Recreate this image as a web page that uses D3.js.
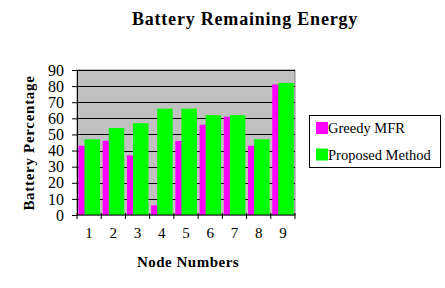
<!DOCTYPE html>
<html>
<head>
<meta charset="UTF-8">
<title>Battery Remaining Energy</title>
<style>
  body { margin: 0; background: #fff; }
  text { font-family: "Liberation Serif", "Times New Roman", serif; }
</style>
</head>
<body>
<script src="https://d3js.org/d3.v7.min.js"></script>
<script>
var nodes = ["1", "2", "3", "4", "5", "6", "7", "8", "9"];
var greedy = [43, 46, 37, 6, 46, 56, 61, 43, 81];
var proposed = [47, 54, 57, 66, 66, 62, 62, 47, 82];
var seriesNames = ["Greedy MFR", "Proposed Method"];
var seriesColors = ["#ff00ff", "#00ff00"];
var yTicks = [0, 10, 20, 30, 40, 50, 60, 70, 80, 90];

var width = 445, height = 288;
var plotL = 77, plotR = 295, plotT = 70, plotB = 215;

var svg = d3.select("body").append("svg")
    .attr("width", width)
    .attr("height", height);

var x = d3.scaleBand().domain(nodes).range([plotL, plotR]);
var y = d3.scaleLinear().domain([0, 90]).range([plotB, plotT]);

// plot background
svg.append("rect")
    .attr("x", plotL).attr("y", plotT)
    .attr("width", plotR - plotL).attr("height", plotB - plotT)
    .attr("fill", "#c0c0c0")
    .attr("stroke", "#808080");

// gridlines
svg.append("g").selectAll("line")
    .data(yTicks.slice(1))
    .enter().append("line")
    .attr("x1", plotL).attr("x2", plotR)
    .attr("y1", function(d) { return Math.round(y(d)) + 0.5; })
    .attr("y2", function(d) { return Math.round(y(d)) + 0.5; })
    .attr("stroke", "#000")
    .attr("stroke-width", 1);

var bw = x.bandwidth();

// greedy bars (behind)
svg.append("g").selectAll("rect")
    .data(greedy)
    .enter().append("rect")
    .attr("x", function(d, i) { return x(nodes[i]) + bw * 0.06; })
    .attr("y", function(d) { return y(d); })
    .attr("width", bw * 0.28)
    .attr("height", function(d) { return plotB - y(d); })
    .attr("fill", seriesColors[0]);

// proposed bars
svg.append("g").selectAll("rect")
    .data(proposed)
    .enter().append("rect")
    .attr("x", function(d, i) { return x(nodes[i]) + bw * 0.31; })
    .attr("y", function(d) { return y(d); })
    .attr("width", bw * 0.64)
    .attr("height", function(d) { return plotB - y(d); })
    .attr("fill", seriesColors[1]);

// y axis
var yAxis = d3.axisLeft(y).tickValues(yTicks).tickSize(5).tickPadding(8);
var gy = svg.append("g")
    .attr("transform", "translate(" + plotL + ",0)")
    .call(yAxis);
gy.attr("font-family", null);
gy.selectAll("text").attr("font-size", 16).attr("fill", "#000");
gy.selectAll("line, path").attr("stroke", "#000");

// x axis with ticks at band edges
var gx = svg.append("g")
    .attr("transform", "translate(0," + plotB + ")");
gx.append("line")
    .attr("x1", plotL).attr("x2", plotR)
    .attr("stroke", "#000");
var edges = nodes.map(function(n) { return x(n); }).concat([plotR]);
gx.selectAll(".edge")
    .data(edges)
    .enter().append("line")
    .attr("class", "edge")
    .attr("x1", function(d) { return d; })
    .attr("x2", function(d) { return d; })
    .attr("y1", -2).attr("y2", 4)
    .attr("stroke", "#000");
gx.selectAll(".lbl")
    .data(nodes)
    .enter().append("text")
    .attr("class", "lbl")
    .attr("x", function(d) { return x(d) + bw / 2; })
    .attr("y", 23)
    .attr("text-anchor", "middle")
    .attr("font-size", 15)
    .text(function(d) { return d; });

// titles
svg.append("text")
    .attr("x", 245).attr("y", 25)
    .attr("text-anchor", "middle")
    .attr("font-size", 18).attr("font-weight", "bold")
    .attr("letter-spacing", 0.8)
    .text("Battery Remaining Energy");

svg.append("text")
    .attr("x", 188).attr("y", 267)
    .attr("text-anchor", "middle")
    .attr("font-size", 15).attr("font-weight", "bold")
    .attr("letter-spacing", 0.5)
    .text("Node Numbers");

svg.append("text")
    .attr("transform", "translate(34,143) rotate(-90)")
    .attr("text-anchor", "middle")
    .attr("font-size", 15).attr("font-weight", "bold")
    .attr("letter-spacing", 0.7)
    .text("Battery Percentage");

// legend
var lg = svg.append("g");
lg.append("rect")
    .attr("x", 309.5).attr("y", 115.5)
    .attr("width", 131).attr("height", 52)
    .attr("fill", "#fff").attr("stroke", "#000");
seriesNames.forEach(function(name, i) {
    var yy = 122 + i * 26.5;
    lg.append("rect")
        .attr("x", 316).attr("y", yy)
        .attr("width", 12).attr("height", 12)
        .attr("fill", seriesColors[i]);
    lg.append("text")
        .attr("x", 328).attr("y", yy + 11)
        .attr("font-size", 14.5)
        .text(name);
});
</script>
</body>
</html>
